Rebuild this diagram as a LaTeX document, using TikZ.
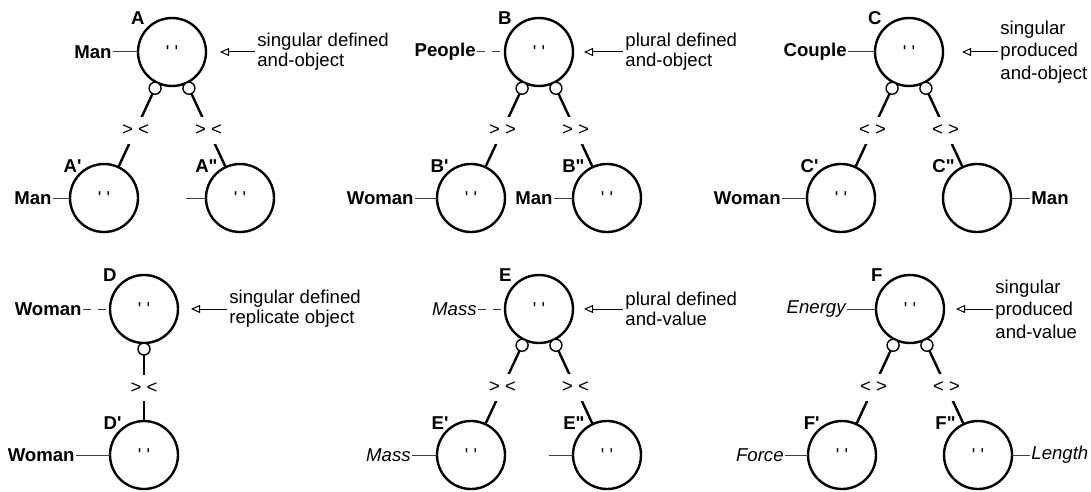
\documentclass[tikz,border=0pt]{standalone}
\usepackage{fontspec}
\setmainfont{Liberation Sans}
\usepackage{tikz}
\usetikzlibrary{arrows.meta, positioning}
\newcommand{\ticks}{\textquotesingle{} \textquotesingle}
\tikzset{
  % Entity styles
  entity/.style={circle, draw, line width=1.2pt, minimum size=34pt, inner sep=0pt, outer sep=0pt, font=\fontsize{9.3}{10}\selectfont},
  port/.style={circle, draw, line width=0.7pt, fill=white, minimum size=6pt, inner sep=0pt, outer sep=0pt},
  letter/.style={font=\fontsize{9.3}{10}\selectfont\bfseries, inner sep=1.5pt},
  subletter/.style={letter, xshift=2.5pt, yshift=-1pt},
  % Text styles
  namebf/.style={font=\fontsize{9.3}{10}\selectfont\bfseries, inner sep=0.5pt},
  nameit/.style={font=\fontsize{9.3}{10}\selectfont\itshape, inner sep=0.5pt},
  note/.style={font=\fontsize{9.3}{10}\selectfont, align=left, inner sep=0pt},
  cross/.style={fill=white, font=\fontsize{9.3}{10}\selectfont, inner xsep=1pt, inner ysep=4pt},
  % Line styles
  link/.style={line width=1.2pt},
  tagline/.style={line width=0.5pt, black!75},
  dashtag/.style={tagline, dash pattern=on 4pt off 3.5pt},
  pointer/.style={-{Triangle[open, length=4.5pt, width=4pt]}, line width=0.5pt, shorten >=6pt, shorten <=1pt}
}

\begin{document}
\begin{tikzpicture}[x=0.5pt, y=-0.5pt]
  \useasboundingbox (0,0) rectangle (1091,492);

  % A: singular defined and-object
  \node[entity, label={[letter]135:A}] (A) at (172,52) {\ticks};
  \node[entity, on grid, below left=73pt and 34pt of A, label={[subletter]135:A\textquotesingle}] (A1) {\ticks};
  \node[entity, on grid, below right=73pt and 34pt of A, label={[subletter]135:A\textquotedbl}] (A2) {\ticks};
  \node[port, anchor=65] (pA1) at (A.245) {};
  \node[port, anchor=115] (pA2) at (A.295) {};
  \draw[link] (pA1) -- node[cross] {> <} (A1);
  \draw[link] (pA2) -- node[cross] {> <} (A2);
  \node[namebf, left=12.5pt of A] (nA) {Man};
  \node[namebf, left=8.5pt of A1] (nA1) {Man};
  \coordinate[left=10pt of A2] (nA2);
  \draw[tagline] (nA) -- (A);
  \draw[tagline] (nA1) -- (A1);
  \draw[tagline] (nA2) -- (A2);
  \node[note, right=25.5pt of A] (tA) {singular defined\\and-object};
  \draw[pointer, shorten >=7pt] (tA.west |- A.east) -- (A.east);

  % B: plural defined and-object
  \node[entity, label={[letter]135:B}] (B) at (539,52) {\ticks};
  \node[entity, on grid, below left=73pt and 34pt of B, label={[subletter]135:B\textquotesingle}] (B1) {\ticks};
  \node[entity, on grid, below right=73pt and 34pt of B, label={[subletter]135:B\textquotedbl}] (B2) {\ticks};
  \node[port, anchor=65] (pB1) at (B.245) {};
  \node[port, anchor=115] (pB2) at (B.295) {};
  \draw[link] (pB1) -- node[cross] {> >} (B1);
  \draw[link] (pB2) -- node[cross] {> >} (B2);
  \node[namebf, left=14pt of B] (nB) {People};
  \node[namebf, left=11pt of B1] (nB1) {Woman};
  \node[namebf, left=9.5pt of B2] (nB2) {Man};
  \draw[dashtag] (nB) -- (B);
  \draw[tagline] (nB1) -- (B1);
  \draw[tagline] (nB2) -- (B2);
  \node[note, right=26pt of B] (tB) {plural defined\\and-object};
  \draw[pointer, shorten >=5.5pt] (tB.west |- B.east) -- (B.east);

  % C: singular produced and-object
  \node[entity, label={[letter]135:C}] (C) at (909,52) {\ticks};
  \node[entity, on grid, below left=73pt and 34pt of C, label={[subletter]135:C\textquotesingle}] (C1) {\ticks};
  \node[entity, on grid, below right=73pt and 34pt of C, label={[subletter]135:C\textquotedbl}] (C2) {};
  \node[port, anchor=65] (pC1) at (C.245) {};
  \node[port, anchor=115] (pC2) at (C.295) {};
  \draw[link] (pC1) -- node[cross] {< >} (C1);
  \draw[link] (pC2) -- node[cross] {< >} (C2);
  \node[namebf, left=13.5pt of C] (nC) {Couple};
  \node[namebf, left=12.5pt of C1] (nC1) {Woman};
  \node[namebf, right=9.5pt of C2] (nC2) {Man};
  \draw[tagline] (nC) -- (C);
  \draw[tagline] (nC1) -- (C1);
  \draw[tagline] (nC2) -- (C2);
  \node[note, right=28.5pt of C] (tC) {singular\\[1.25pt]produced\\[1.25pt]and-object};
  \draw[pointer, shorten >=9.5pt] (tC.west |- C.east) -- (C.east);

  % D: singular defined replicate object
  \node[entity, label={[letter]135:D}] (D) at (144,309) {\ticks};
  \node[entity, on grid, below=73pt of D, label={[subletter]135:D\textquotesingle}] (D1) {\ticks};
  \node[port, anchor=north] (pD1) at (D.south) {};
  \draw[link] (pD1) -- node[cross] {> <} (D1);
  \node[namebf, left=13.5pt of D] (nD) {Woman};
  \node[namebf, left=17pt of D1] (nD1) {Woman};
  \draw[dashtag] (nD) -- (D);
  \draw[tagline] (nD1) -- (D1);
  \node[note, right=25.5pt of D] (tD) {singular defined\\replicate object};
  \draw[pointer, shorten >=6.5pt] (tD.west |- D.east) -- (D.east);

  % E: plural defined and-value
  \node[entity, label={[letter]135:E}] (E) at (539,309) {\ticks};
  \node[entity, on grid, below left=73pt and 34pt of E, label={[subletter]135:E\textquotesingle}] (E1) {\ticks};
  \node[entity, on grid, below right=73pt and 34pt of E, label={[subletter]135:E\textquotedbl}] (E2) {\ticks};
  \node[port, anchor=65] (pE1) at (E.245) {};
  \node[port, anchor=115] (pE2) at (E.295) {};
  \draw[link] (pE1) -- node[cross] {> <} (E1);
  \draw[link] (pE2) -- node[cross] {> <} (E2);
  \node[nameit, left=13.5pt of E] (nE) {Mass};
  \node[nameit, left=12.5pt of E1] (nE1) {Mass};
  \coordinate[left=12pt of E2] (nE2);
  \draw[dashtag] (nE) -- (E);
  \draw[tagline] (nE1) -- (E1);
  \draw[tagline] (nE2) -- (E2);
  \node[note, right=26pt of E] (tE) {plural defined\\and-value};
  \draw[pointer, shorten >=5.5pt] (tE.west |- E.east) -- (E.east);

  % F: singular produced and-value
  \node[entity, label={[letter]135:F}] (F) at (910,309) {\ticks};
  \node[entity, on grid, below left=73pt and 34pt of F, label={[subletter]135:F\textquotesingle}] (F1) {\ticks};
  \node[entity, on grid, below right=73pt and 34pt of F, label={[subletter]135:F\textquotedbl}] (F2) {\ticks};
  \node[port, anchor=65] (pF1) at (F.245) {};
  \node[port, anchor=115] (pF2) at (F.295) {};
  \draw[link] (pF1) -- node[cross] {< >} (F1);
  \draw[link] (pF2) -- node[cross] {< >} (F2);
  \node[nameit, left=14.5pt of F] (nF) {Energy};
  \node[nameit, left=11.5pt of F1] (nF1) {Force};
  \node[nameit, right=9pt of F2] (nF2) {Length};
  \draw[tagline] (nF) -- (F);
  \draw[tagline] (nF1) -- (F1);
  \draw[tagline] (nF2) -- (F2);
  \node[note, right=25.5pt of F] (tF) {singular\\[1.25pt]produced\\[1.25pt]and-value};
  \draw[pointer] (tF.west |- F.east) -- (F.east);
\end{tikzpicture}
\end{document}
